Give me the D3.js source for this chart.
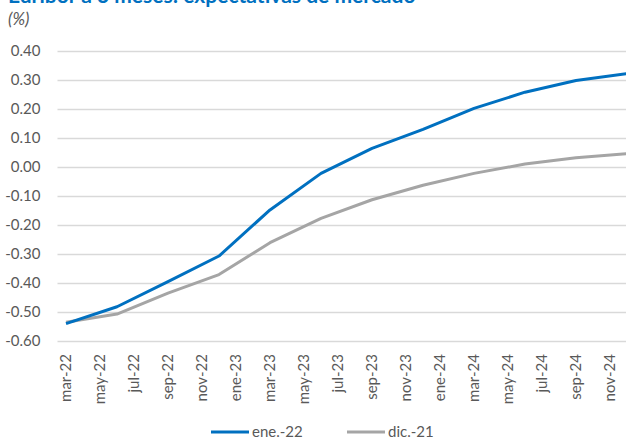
<!DOCTYPE html>
<html><head><meta charset="utf-8">
<script src="https://cdn.jsdelivr.net/npm/d3@7"></script>
<style>
html,body{margin:0;padding:0;background:#fff;overflow:hidden}
text{font-family:Lato,"Open Sans",sans-serif}
</style></head>
<body><svg id="c" width="626" height="439"></svg>
<script>
const months = ["mar-22","abr-22","may-22","jun-22","jul-22","ago-22","sep-22","oct-22","nov-22","dic-22",
"ene-23","feb-23","mar-23","abr-23","may-23","jun-23","jul-23","ago-23","sep-23","oct-23","nov-23","dic-23",
"ene-24","feb-24","mar-24","abr-24","may-24","jun-24","jul-24","ago-24","sep-24","oct-24","nov-24","dic-24"];
const tickLabels = ["mar-22","may-22","jul-22","sep-22","nov-22","ene-23","mar-23","may-23","jul-23","sep-23","nov-23","ene-24","mar-24","may-24","jul-24","sep-24","nov-24"];
const dataMonths = ["mar-22","jun-22","sep-22","dic-22","mar-23","jun-23","sep-23","dic-23","mar-24","jun-24","sep-24","dic-24"];
const ene22 = [-0.540,-0.482,-0.395,-0.307,-0.148,-0.022,0.064,0.130,0.202,0.258,0.298,0.322];
const dic21 = [-0.535,-0.507,-0.435,-0.371,-0.261,-0.177,-0.113,-0.063,-0.022,0.010,0.032,0.046];
const yTicks = [-0.6,-0.5,-0.4,-0.3,-0.2,-0.1,0,0.1,0.2,0.3,0.4];
const seriesNames = ["ene.-22","dic.-21"];

const svg = d3.select("#c");
const mLeft = 57.5, mRight = 635.5, mTop = 51, mBottom = 341;
const x = d3.scaleBand().domain(months).range([mLeft, mRight]);
const xc = m => x(m) + x.bandwidth()/2;
const y = d3.scaleLinear().domain([-0.6, 0.4]).range([mBottom, mTop]);
const textColor = "#595959";

// title (partially cropped at top, as in the reference)
svg.append("text").attr("x", 8).attr("y", 3).attr("font-size", 21).attr("font-weight", "bold")
  .attr("fill", "#0070C0").text("Euribor a 3 meses: expectativas de mercado");
svg.append("text").attr("x", 8).attr("y", 25).attr("font-size", 17).attr("font-style", "italic")
  .attr("fill", textColor).text("(%)");

// y axis + grid
const yAxis = d3.axisLeft(y).tickValues(yTicks).tickSize(-(626 - mLeft)).tickPadding(17)
  .tickFormat(d => d.toFixed(2));
const gy = svg.append("g").attr("transform", `translate(${mLeft},0)`).call(yAxis);
gy.select(".domain").remove();
gy.selectAll(".tick line").attr("stroke", "#D9D9D9").attr("stroke-width", 1.3);
gy.selectAll(".tick text").attr("fill", textColor).attr("font-size", 15).attr("font-family", "Lato");

// x axis
const xAxis = d3.axisBottom(x).tickValues(tickLabels).tickSize(0).tickPadding(0);
const gx = svg.append("g").attr("transform", `translate(0,${mBottom})`).call(xAxis);
gx.select(".domain").remove();
gx.selectAll(".tick text").attr("fill", textColor).attr("font-size", 15).attr("font-family", "Lato")
  .attr("text-anchor", "end").attr("transform", "rotate(-90)").attr("x", -13).attr("y", 0).attr("dy", "0.35em");

// lines
const line = d3.line().x(d => xc(d.m)).y(d => y(d.v));
const mk = arr => dataMonths.map((m, i) => ({m, v: arr[i]}));
svg.append("path").datum(mk(dic21)).attr("d", line).attr("fill", "none")
  .attr("stroke", "#A5A5A5").attr("stroke-width", 3).attr("stroke-linejoin", "round");
svg.append("path").datum(mk(ene22)).attr("d", line).attr("fill", "none")
  .attr("stroke", "#0070C0").attr("stroke-width", 3).attr("stroke-linejoin", "round");

// legend
const legend = [{name: seriesNames[0], c: "#0070C0", x: 211}, {name: seriesNames[1], c: "#A5A5A5", x: 347}];
const lg = svg.append("g");
legend.forEach(l => {
  lg.append("line").attr("x1", l.x).attr("x2", l.x + 38).attr("y1", 432).attr("y2", 432)
    .attr("stroke", l.c).attr("stroke-width", 3);
  lg.append("text").attr("x", l.x + 41).attr("y", 432).attr("dy", "0.35em").attr("font-size", 15)
    .attr("fill", textColor).text(l.name);
});
</script></body></html>
